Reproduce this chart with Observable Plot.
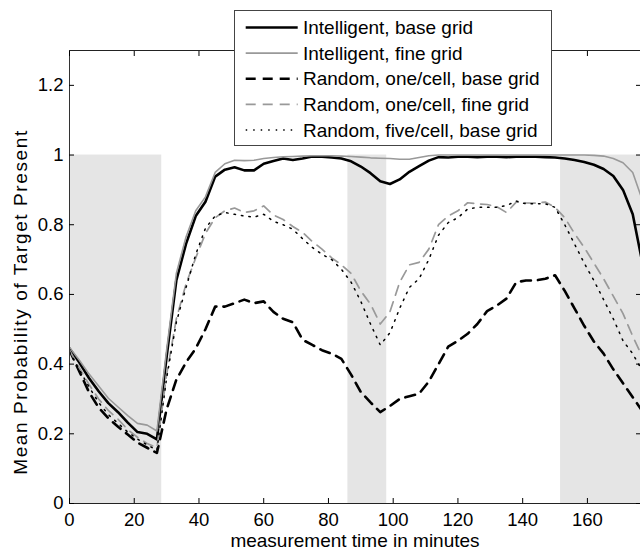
<!DOCTYPE html>
<html><head><meta charset="utf-8">
<script src="https://cdn.jsdelivr.net/npm/d3@7"></script>
<script src="https://cdn.jsdelivr.net/npm/@observablehq/plot@0.6"></script>
<style>
body{margin:0;background:#fff;}
#wrap{position:relative;width:640px;height:552px;font-family:"Liberation Sans",Arial,Helvetica,sans-serif;}
#legend{position:absolute;left:234px;top:10px;width:318px;height:136px;border:1px solid #444;background:#fff;box-sizing:border-box;}
#legend svg{display:block;}
</style></head><body><div id="wrap"></div>
<script>
// measurement times (minutes)
const times = [0,3,6,9,12,15,18,21,24,27,30,33,36,39,42,45,48,51,54,57,60,63,66,69,72,75,78,81,84,87,90,93,96,99,102,105,108,111,114,117,120,123,126,129,132,135,138,141,144,147,150,153,156,159,162,165,168,171,174,177];

const intelligentBase = [.445,.405,.36,.322,.288,.262,.232,.205,.2,.184,.42,.64,.745,.825,.866,.938,.958,.965,.956,.956,.975,.983,.99,.986,.99,.996,.995,.993,.99,.982,.967,.948,.925,.917,.93,.952,.968,.984,.994,.993,.995,.995,.994,.995,.995,.994,.995,.995,.995,.994,.993,.99,.986,.98,.972,.96,.94,.9,.83,.69];
const intelligentFine = [.448,.412,.372,.337,.302,.277,.252,.23,.225,.208,.44,.66,.765,.84,.88,.95,.975,.985,.984,.985,.99,.993,.995,.996,.997,.998,.998,.998,.997,.996,.994,.992,.991,.99,.988,.988,.993,.998,1.0,1.0,1.0,1.0,1.0,1.0,1.0,1.0,1.0,1.0,1.0,1.0,1.0,1.0,1.0,1.0,.999,.997,.99,.978,.95,.87];
const randomOneBase = [.44,.38,.32,.275,.245,.22,.198,.175,.16,.145,.27,.355,.405,.445,.50,.565,.565,.575,.585,.575,.58,.55,.53,.52,.47,.455,.44,.43,.415,.37,.32,.29,.262,.28,.30,.308,.315,.35,.40,.45,.467,.487,.515,.552,.568,.588,.635,.64,.64,.645,.655,.61,.56,.51,.465,.43,.385,.345,.305,.265];
const randomOneFine = [.44,.39,.342,.30,.267,.242,.212,.19,.172,.16,.37,.53,.63,.705,.775,.82,.84,.848,.835,.84,.854,.828,.815,.795,.778,.752,.73,.705,.685,.66,.61,.572,.515,.55,.635,.685,.692,.73,.80,.825,.84,.863,.86,.858,.852,.835,.865,.863,.862,.865,.85,.82,.775,.735,.69,.645,.595,.545,.48,.42];
const randomFiveBase = [.435,.385,.335,.29,.255,.23,.205,.185,.168,.153,.36,.52,.62,.715,.79,.825,.835,.83,.825,.822,.83,.81,.80,.787,.76,.735,.715,.70,.672,.635,.58,.515,.455,.49,.56,.62,.645,.70,.77,.806,.82,.845,.85,.85,.85,.855,.868,.86,.86,.86,.85,.80,.745,.69,.64,.585,.53,.467,.43,.38];

const seriesNames = ["Intelligent, base grid","Intelligent, fine grid","Random, one/cell, base grid","Random, one/cell, fine grid","Random, five/cell, base grid"];
const seriesValues = [intelligentBase,intelligentFine,randomOneBase,randomOneFine,randomFiveBase];

// shaded intervals (minutes) and their top value
const shadeStart = [0, 86, 151.7];
const shadeEnd = [28.5, 98, 190];
const shadeTop = [1, 1, 1];

const xTicks = [0,20,40,60,80,100,120,140,160];
const yTicks = [0,0.2,0.4,0.6,0.8,1,1.2];
const xLabel = "measurement time in minutes";
const yLabel = "Mean Probability of Target Present";

const styles = [
  {stroke:"#000", strokeWidth:2.6, dash:null},
  {stroke:"#999", strokeWidth:1.6, dash:null},
  {stroke:"#000", strokeWidth:2.6, dash:"10,7"},
  {stroke:"#999", strokeWidth:1.7, dash:"10,7"},
  {stroke:"#000", strokeWidth:1.5, dash:"1.5,6"}
];

const shades = shadeStart.map((s,i)=>({x1:s,x2:shadeEnd[i],y1:0,y2:shadeTop[i]}));
const lineData = seriesValues.map(vals => vals.map((v,i)=>({t:times[i], v})));

const plot = Plot.plot({
  width: 640, height: 552,
  marginLeft: 69, marginRight: 0, marginTop: 50, marginBottom: 49,
  style: {fontFamily: "Liberation Sans, Arial, Helvetica, sans-serif", fontSize: "18.5px", background: "white", color: "black"},
  x: {domain: [0, 176.4]},
  y: {domain: [0, 1.3]},
  marks: [
    Plot.rect(shades, {x1:"x1", x2:"x2", y1:"y1", y2:"y2", fill:"#e5e5e5", clip:true}),
    ...lineData.map((d,i)=>Plot.line(d, {x:"t", y:"v", stroke:styles[i].stroke, strokeWidth:styles[i].strokeWidth, strokeDasharray:styles[i].dash, strokeLinejoin:"round", clip:true})),
    Plot.ruleX([0], {stroke:"#333"}),
    Plot.ruleY([0, 1.3], {stroke:"#222"}),
    Plot.axisX({anchor:"bottom", ticks:xTicks, tickSize:-5, tickPadding:14, label:null, tickFormat:d=>String(d), fontSize:18.5}),
    Plot.axisX({anchor:"top", ticks:xTicks, tickSize:-5, tickFormat:()=>"", label:null}),
    Plot.axisY({anchor:"left", ticks:yTicks, tickSize:-5, tickPadding:11, label:null, tickFormat:d=>String(d), fontSize:18.5}),
    Plot.axisY({anchor:"right", ticks:yTicks, tickSize:-5, tickFormat:()=>"", label:null}),
    Plot.text([xLabel], {frameAnchor:"bottom", textAnchor:"middle", dy:43, fontSize:19}),
    Plot.text([yLabel], {frameAnchor:"left", textAnchor:"middle", rotate:-90, dx:-49, dy:25, fontSize:19})
  ]
});
d3.select(plot).selectAll("text").filter(function(){return this.textContent===yLabel;}).style("letter-spacing","1.6px");

const wrap = document.getElementById("wrap");
wrap.appendChild(plot);

// legend
const leg = document.createElement("div");
leg.id = "legend";
wrap.appendChild(leg);
const lsvg = d3.select(leg).append("svg").attr("width",316).attr("height",134);
seriesNames.forEach((name,i)=>{
  const y = 16.5 + i*25.6;
  const s = styles[i];
  lsvg.append("line").attr("x1",10.7).attr("x2",62.7).attr("y1",y).attr("y2",y)
    .attr("stroke",s.stroke).attr("stroke-width",s.strokeWidth).attr("stroke-dasharray",s.dash);
  lsvg.append("text").attr("x",68).attr("y",y).attr("dy","0.35em")
    .attr("font-size",19).attr("font-family","Liberation Sans, Arial, Helvetica, sans-serif").text(name);
});
</script>
</body></html>
